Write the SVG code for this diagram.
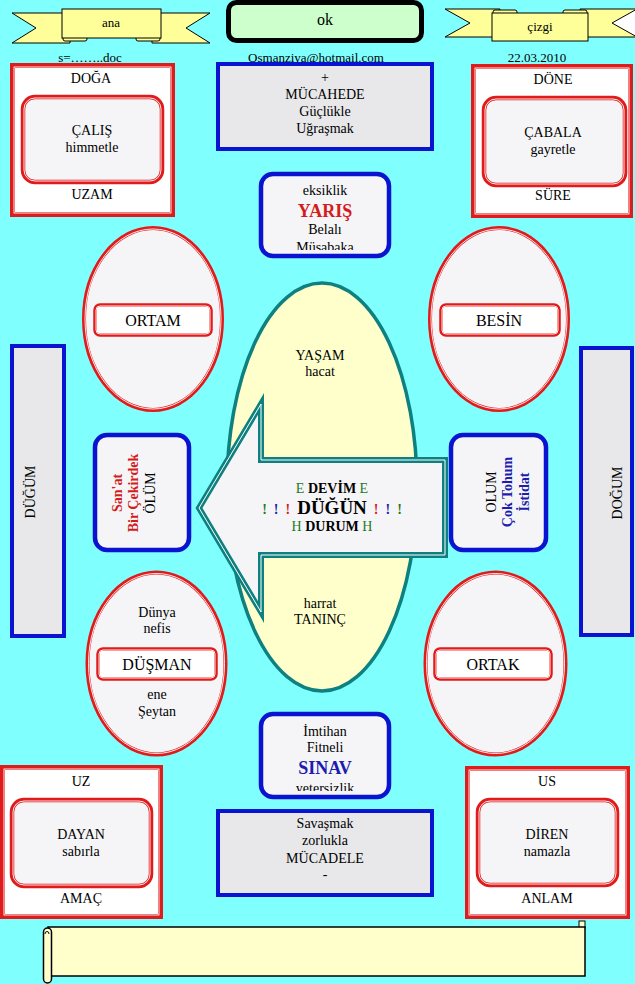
<svg xmlns="http://www.w3.org/2000/svg" width="635" height="984" viewBox="0 0 635 984">
<style>
.t{font-family:"Liberation Serif","Times New Roman",serif;font-size:14px;text-anchor:middle;fill:#000}
.s13{font-size:13px}
.s16{font-size:16px}
.b{font-weight:bold}
.rb{fill:#fff;stroke:#e01b1b;stroke-width:5}
.ri{fill:#f5f5f7;stroke:#e01b1b;stroke-width:4.5}
.rs{fill:#fff;stroke:#e01b1b;stroke-width:3.5}
.wl{fill:none;stroke:#fff;stroke-width:0.9}
.bb{fill:#e8e8ea;stroke:#0a14d0;stroke-width:4}
.bbr{fill:#f5f5f7;stroke:#0a14d0;stroke-width:4.5}
.el{fill:#f5f5f7;stroke:#e01b1b;stroke-width:4}
.rib{fill:#ffff99;stroke:#000;stroke-width:1}
.g{fill:#1f7a1f}
.bl{fill:#1c1cb0}
.rd{fill:#d41c1c}
</style>
<defs>
<clipPath id="cY"><rect x="263" y="176" width="124" height="74"/></clipPath>
<clipPath id="cS"><rect x="263" y="716" width="124" height="75"/></clipPath>
</defs>
<rect x="0" y="0" width="635" height="984" fill="#80ffff"/>

<g id="header">
  <g id="ribbon-left">
    <polygon class="rib" points="12,13 70,13 70,43 12,43 36,28"/>
    <polygon class="rib" points="210,13 152,13 152,43 210,43 186,28"/>
    <rect class="rib" x="63" y="36" width="24" height="5" rx="2"/>
    <rect class="rib" x="136" y="36" width="24" height="5" rx="2"/>
    <rect class="rib" x="62" y="9" width="99" height="29"/>
    <text class="t s13" x="111" y="27">ana</text>
  </g>
  <g id="ok-box">
    <rect x="228.5" y="2.5" width="193" height="38" rx="8" fill="#ccffcc" stroke="#000" stroke-width="5"/>
    <text class="t s16" x="325" y="25">ok</text>
  </g>
  <g id="ribbon-right">
    <polygon class="rib" points="445,9 500,9 500,37 445,37 470,23"/>
    <polygon class="rib" points="580,9 636,9 636,37 580,37"/>
    <polygon points="637,9 612,23 637,37" fill="#fff" stroke="#000" stroke-width="1"/>
    <rect class="rib" x="493" y="10" width="24" height="5" rx="2"/>
    <rect class="rib" x="563" y="10" width="24" height="5" rx="2"/>
    <rect class="rib" x="492" y="13" width="96" height="28"/>
    <text class="t s13" x="540" y="31">çizgi</text>
  </g>
  <text class="t s13" x="90" y="62">s=……..doc</text>
  <text class="t s13" x="316" y="62">Osmanziya@hotmail.com</text>
  <text class="t s13" x="537" y="62">22.03.2010</text>
</g>

<g id="connectors"></g>

<g id="box-caliS">
  <rect class="rb" x="12.5" y="65.5" width="160" height="149"/>
  <rect class="wl" x="14" y="67" width="157" height="146"/>
  <rect class="ri" x="23" y="97" width="139" height="85" rx="12"/>
  <rect class="wl" x="24" y="98" width="137" height="83" rx="11"/>
  <text class="t" x="91" y="83">DOĞA</text>
  <text class="t" x="92" y="135">ÇALIŞ</text>
  <text class="t" x="92" y="152">himmetle</text>
  <text class="t" x="92" y="199">UZAM</text>
</g>

<g id="box-cabala">
  <rect class="rb" x="473.5" y="66.5" width="157" height="149"/>
  <rect class="wl" x="475" y="68" width="154" height="146"/>
  <rect class="ri" x="484" y="98" width="141" height="87" rx="12"/>
  <rect class="wl" x="485" y="99" width="139" height="85" rx="11"/>
  <text class="t" x="553" y="84">DÖNE</text>
  <text class="t" x="553" y="137">ÇABALA</text>
  <text class="t" x="553" y="154">gayretle</text>
  <text class="t" x="553" y="200">SÜRE</text>
</g>

<g id="box-mucahede">
  <rect class="bb" x="218" y="64" width="214" height="85"/>
  <text class="t" x="325" y="82">+</text>
  <text class="t" x="325" y="99">MÜCAHEDE</text>
  <text class="t" x="325" y="116">Güçlükle</text>
  <text class="t" x="325" y="133">Uğraşmak</text>
</g>

<g id="box-yaris">
  <rect class="bbr" x="261" y="174" width="128" height="82" rx="12"/>
  <g clip-path="url(#cY)">
    <text class="t" x="325" y="195">eksiklik</text>
    <text class="t b rd" x="325" y="217" style="font-size:18px">YARIŞ</text>
    <text class="t" x="325" y="234">Belalı</text>
    <text class="t" x="325" y="252">Müsabaka</text>
  </g>
</g>

<g id="ellipse-ortam">
  <ellipse class="el" cx="153" cy="319" rx="69" ry="91"/>
  <ellipse class="wl" cx="153" cy="319" rx="68" ry="90"/>
  <rect class="rs" x="95" y="305" width="116" height="30" rx="5"/>
  <rect class="wl" x="96" y="306" width="114" height="28" rx="4"/>
  <text class="t s16" x="153" y="326">ORTAM</text>
</g>

<g id="ellipse-besin">
  <ellipse class="el" cx="499" cy="319" rx="69" ry="91"/>
  <ellipse class="wl" cx="499" cy="319" rx="68" ry="90"/>
  <rect class="rs" x="441" y="305" width="118" height="30" rx="5"/>
  <rect class="wl" x="442" y="306" width="116" height="28" rx="4"/>
  <text class="t s16" x="499" y="326">BESİN</text>
</g>

<g id="ellipse-yasam">
  <ellipse cx="322" cy="487" rx="95" ry="204" fill="#ffffcc" stroke="#0e8080" stroke-width="3.5"/>
  <text class="t" x="320" y="360">YAŞAM</text>
  <text class="t" x="320" y="376">hacat</text>
  <text class="t" x="320" y="608">harrat</text>
  <text class="t" x="320" y="624">TANINÇ</text>
</g>

<g id="side-dugum">
  <rect class="bb" x="12" y="346" width="52" height="290"/>
  <text class="t" transform="translate(35,492) rotate(-90)" x="0" y="0">DÜĞÜM</text>
</g>

<g id="side-dogum">
  <rect class="bb" x="581" y="348" width="51" height="287"/>
  <text class="t" transform="translate(622,493) rotate(-90)" x="0" y="0">DOĞUM</text>
</g>

<g id="box-olum-left">
  <rect class="bbr" x="95" y="435" width="94" height="115" rx="12"/>
  <g transform="translate(0,493) rotate(-90)">
    <text class="t b rd" x="0" y="122">San'at</text>
    <text class="t b rd" x="0" y="138">Bir Çekirdek</text>
    <text class="t" x="0" y="155">ÖLÜM</text>
  </g>
</g>

<g id="box-olum-right">
  <rect class="bbr" x="451" y="435" width="95" height="115" rx="12"/>
  <g transform="translate(0,492) rotate(-90)">
    <text class="t" x="0" y="496">OLUM</text>
    <text class="t b bl" x="0" y="512">Çok Tohum</text>
    <text class="t b bl" x="0" y="529">İstidat</text>
  </g>
</g>

<g id="arrow-dugun">
  <path d="M199,508 L261,404 L261,460 L445,460 L445,555 L261,555 L261,612 Z" fill="#f5f5f7" stroke="#0e8080" stroke-width="6" stroke-linejoin="miter" stroke-miterlimit="12"/>
  <path d="M199,508 L261,404 L261,460 L445,460 L445,555 L261,555 L261,612 Z" fill="none" stroke="#fff" stroke-width="1"/>
  <text class="t" x="332" y="493"><tspan class="g">E</tspan> <tspan class="b">DEVİM</tspan> <tspan class="g">E</tspan></text>
  <text class="t b" x="332" y="514"><tspan class="g">!</tspan>&#160;&#160;<tspan class="bl">!</tspan>&#160;&#160;<tspan class="rd">!</tspan>&#160;&#160;<tspan style="font-size:19px">DÜĞÜN</tspan>&#160;&#160;<tspan class="rd">!</tspan>&#160;&#160;<tspan class="bl">!</tspan>&#160;&#160;<tspan class="g">!</tspan></text>
  <text class="t" x="332" y="531"><tspan class="g">H</tspan> <tspan class="b">DURUM</tspan> <tspan class="g">H</tspan></text>
</g>

<g id="ellipse-dusman">
  <ellipse class="el" cx="156.5" cy="663.5" rx="69" ry="91"/>
  <ellipse class="wl" cx="156.5" cy="663.5" rx="68" ry="90"/>
  <rect class="rs" x="98" y="649" width="118" height="30" rx="5"/>
  <rect class="wl" x="99" y="650" width="116" height="28" rx="4"/>
  <text class="t" x="157" y="617">Dünya</text>
  <text class="t" x="157" y="633">nefis</text>
  <text class="t s16" x="157" y="670">DÜŞMAN</text>
  <text class="t" x="157" y="699">ene</text>
  <text class="t" x="157" y="716">Şeytan</text>
</g>

<g id="ellipse-ortak">
  <ellipse class="el" cx="495.5" cy="663.5" rx="70" ry="91"/>
  <ellipse class="wl" cx="495.5" cy="663.5" rx="69" ry="90"/>
  <rect class="rs" x="435" y="649" width="116" height="30" rx="5"/>
  <rect class="wl" x="436" y="650" width="114" height="28" rx="4"/>
  <text class="t s16" x="493" y="670">ORTAK</text>
</g>

<g id="box-sinav">
  <rect class="bbr" x="261" y="714" width="128" height="83" rx="12"/>
  <g clip-path="url(#cS)">
    <text class="t" x="325" y="736">İmtihan</text>
    <text class="t" x="325" y="752">Fitneli</text>
    <text class="t b bl" x="325" y="774" style="font-size:18px">SINAV</text>
    <text class="t" x="325" y="793">yetersizlik</text>
  </g>
</g>

<g id="box-dayan">
  <rect class="rb" x="2.5" y="767.5" width="158" height="149"/>
  <rect class="wl" x="4" y="769" width="155" height="146"/>
  <rect class="ri" x="12" y="800" width="139" height="86" rx="12"/>
  <rect class="wl" x="13" y="801" width="137" height="84" rx="11"/>
  <text class="t" x="81" y="786">UZ</text>
  <text class="t" x="81" y="839">DAYAN</text>
  <text class="t" x="81" y="856">sabırla</text>
  <text class="t" x="81" y="903">AMAÇ</text>
</g>

<g id="box-diren">
  <rect class="rb" x="467.5" y="768.5" width="160" height="148"/>
  <rect class="wl" x="469" y="770" width="157" height="145"/>
  <rect class="ri" x="478" y="800" width="139" height="85" rx="12"/>
  <rect class="wl" x="479" y="801" width="137" height="83" rx="11"/>
  <text class="t" x="547" y="786">US</text>
  <text class="t" x="547" y="839">DİREN</text>
  <text class="t" x="547" y="856">namazla</text>
  <text class="t" x="547" y="903">ANLAM</text>
</g>

<g id="box-mucadele">
  <rect class="bb" x="218" y="811" width="214" height="84"/>
  <text class="t" x="325" y="828">Savaşmak</text>
  <text class="t" x="325" y="845">zorlukla</text>
  <text class="t" x="325" y="863">MÜCADELE</text>
  <text class="t" x="325" y="879">-</text>
</g>

<g id="scroll">
  <rect x="579" y="921" width="6" height="7" fill="#ffffcc" stroke="#000" stroke-width="1"/>
  <rect x="48" y="927" width="537" height="49" fill="#ffffcc" stroke="#000" stroke-width="1.5"/>
  <rect x="43.5" y="928" width="8" height="55" rx="4" fill="#ffffcc" stroke="#000" stroke-width="1.5"/>
  <path d="M45,934 a2,2.5 0 1 1 4,0" fill="none" stroke="#000" stroke-width="1"/>
</g>
</svg>
